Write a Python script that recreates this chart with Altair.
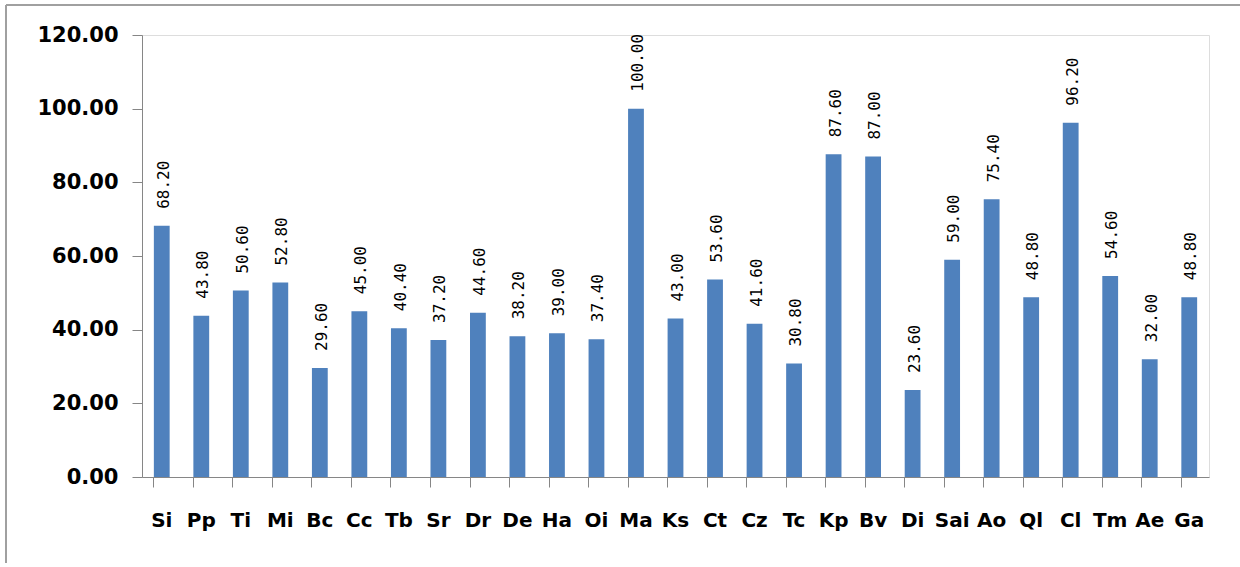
import altair as alt
import pandas as pd

# Species codes along the x axis and their scores
species = ["Si", "Pp", "Ti", "Mi", "Bc", "Cc", "Tb", "Sr", "Dr", "De", "Ha", "Oi",
           "Ma", "Ks", "Ct", "Cz", "Tc", "Kp", "Bv", "Di", "Sai", "Ao", "Ql", "Cl",
           "Tm", "Ae", "Ga"]
scores = [68.20, 43.80, 50.60, 52.80, 29.60, 45.00, 40.40, 37.20, 44.60, 38.20,
          39.00, 37.40, 100.00, 43.00, 53.60, 41.60, 30.80, 87.60, 87.00, 23.60,
          59.00, 75.40, 48.80, 96.20, 54.60, 32.00, 48.80]
y_ticks = [0, 20, 40, 60, 80, 100, 120]

df = pd.DataFrame({"species": species, "score": scores})

W, H = 1067, 442
LEFT, TOP = 142, 35
TOTAL_W, TOTAL_H = 1240, 563
RIGHT, BOTTOM = TOTAL_W - LEFT - W, TOTAL_H - TOP - H
AXIS_GREY = "#868686"
FRAME_GREY = "#A0A0A0"

x_enc = alt.X(
    "species:N", sort=species, title=None,
    scale=alt.Scale(paddingInner=0.6, paddingOuter=0.3),
    axis=alt.Axis(
        labelAngle=0, labelFont="DejaVu Sans", labelFontWeight="bold",
        labelFontSize=20, labelColor="#000000", labelPadding=23,
        tickSize=10, tickColor=AXIS_GREY, domainColor=AXIS_GREY,
        bandPosition=0, grid=False,
    ),
)
y_enc = alt.Y(
    "score:Q", title=None,
    scale=alt.Scale(domain=[0, 120], nice=False),
    axis=alt.Axis(
        values=y_ticks, format=".2f", labelFont="DejaVu Sans",
        labelFontWeight="bold", labelFontSize=21, labelColor="#000000",
        labelPadding=14, tickSize=10, tickColor=AXIS_GREY,
        domainColor=AXIS_GREY, grid=False,
    ),
)

bars = alt.Chart(df).mark_bar(color="#4F81BD").encode(x=x_enc, y=y_enc)

labels = alt.Chart(df).mark_text(
    angle=270, align="left", baseline="middle", dx=17, dy=2,
    font="DejaVu Sans Mono", fontSize=16, color="#000000",
).encode(
    x=alt.X("species:N", sort=species),
    y=alt.Y("score:Q"),
    text=alt.Text("score:Q", format=".2f"),
)

# Frame lines along the top and left edges of the figure
frame_top = alt.Chart(df).mark_rule(color=FRAME_GREY, strokeWidth=1.5).encode(
    x=alt.value(6 - LEFT), x2=alt.value(TOTAL_W - LEFT), y=alt.value(5 - TOP)
)
frame_left = alt.Chart(df).mark_rule(color=FRAME_GREY, strokeWidth=1.5).encode(
    x=alt.value(6 - LEFT), y=alt.value(5 - TOP), y2=alt.value(TOTAL_H - TOP)
)

chart = alt.layer(frame_top, frame_left, bars, labels).properties(
    width=W, height=H,
    padding={"left": LEFT, "top": TOP, "right": RIGHT, "bottom": BOTTOM},
    autosize=alt.AutoSizeParams(type="none"),
).configure_view(
    stroke="transparent", strokeWidth=0
).configure(background="#FFFFFF")

chart.save("out.html", embed_options={"renderer": "svg", "actions": False})
